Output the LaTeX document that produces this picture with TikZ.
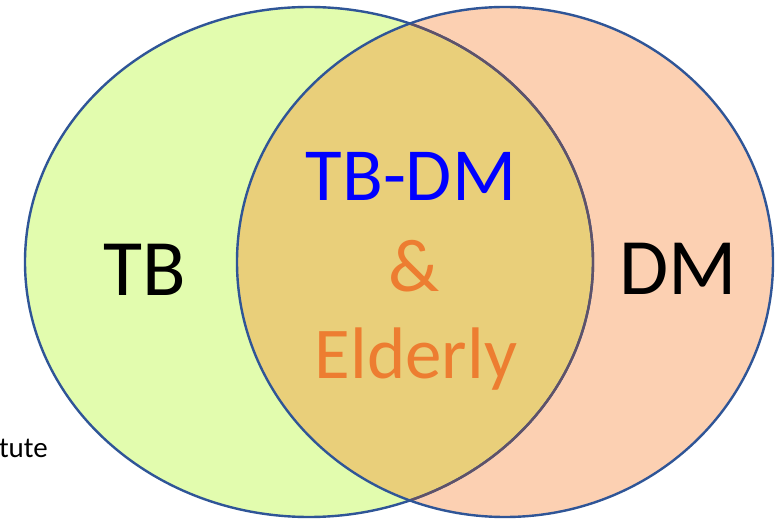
\documentclass[tikz,border=0pt]{standalone}
\usepackage{fontspec}
\setmainfont{Carlito}
\definecolor{lgreen}{RGB}{226,252,174}
\definecolor{peach}{RGB}{252,208,178}
\definecolor{overlap}{RGB}{233,207,122}
\definecolor{rimblue}{RGB}{47,85,151}
\definecolor{rimgray}{RGB}{95,82,105}
\definecolor{txtorange}{RGB}{237,125,49}
\definecolor{txtblue}{RGB}{0,0,255}
\tikzset{
  rim/.style={draw=rimblue, line width=2.4pt},
  bigtxt/.style={inner sep=0pt, anchor=base, font=\fontsize{80}{90}\selectfont},
  midtxt/.style={inner sep=0pt, anchor=base, font=\fontsize{75}{85}\selectfont}
}
\begin{document}
\begin{tikzpicture}[x=1pt,y=1pt]
\useasboundingbox (0,0) rectangle (777,520);
\fill[white] (0,0) rectangle (777,520);
% fills
\fill[lgreen] (309,258) ellipse [x radius=284, y radius=255];
\fill[peach] (505,258) ellipse [x radius=268, y radius=255];
\begin{scope}
  \clip (309,258) ellipse [x radius=284, y radius=255];
  \fill[overlap] (505,258) ellipse [x radius=268, y radius=255];
\end{scope}
% borders
\draw[rim] (309,258) ellipse [x radius=284, y radius=255];
\begin{scope}
  \clip (505,258) ellipse [x radius=268, y radius=255];
  \draw[draw=rimgray, line width=2.4pt] (309,258) ellipse [x radius=284, y radius=255];
\end{scope}
\draw[rim] (505,258) ellipse [x radius=268, y radius=255];
% texts
\node[bigtxt] (tb) at (145,224) {TB};
\node[bigtxt] (dm) at (678,225) {DM};
\node[midtxt, text=txtblue] (tbdm) at (411,319) {TB-DM};
\node[midtxt, text=txtorange] (amp) at (414,228) {\&};
\node[inner sep=0pt, anchor=base, font=\fontsize{73}{83}\selectfont, text=txtorange] (eld) at (416,141) {Elderly};
\node[inner sep=0pt, anchor=base east, font=\fontsize{29}{33}\selectfont] (inst) at (48,63) {tute};
\end{tikzpicture}
\end{document}
